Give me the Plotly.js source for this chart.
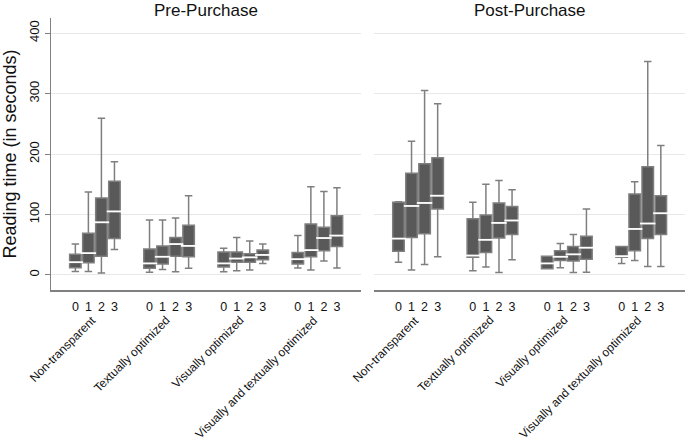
<!DOCTYPE html>
<html>
<head>
<meta charset="utf-8">
<script src="https://cdn.plot.ly/plotly-3.0.1.min.js"></script>
<style>html,body{margin:0;padding:0;background:#fff;}#chart{width:685px;height:442px;}</style>
</head>
<body>
<div id="chart"></div>
<script>
// ---- data ----
const conditions = ["Non-transparent", "Textually optimized", "Visually optimized", "Visually and textually optimized"];
const levels = ["0", "1", "2", "3"];
const panels = ["Pre-Purchase", "Post-Purchase"];

// Pre-Purchase (16 boxes: condition x level)
const preLow  = [5.5, 5.5, 3, 42,   4.5, 9, 5, 11,    5, 7, 8, 19,     11.5, 8, 23, 11.5];
const preQ1   = [12, 20, 31, 60,    11, 18, 31, 30,   13, 21, 21, 25,  18, 30, 40, 47];
const preMed  = [21, 36, 87, 105,   19, 30, 51, 48,   19, 27, 29, 33,  26, 41, 61, 65];
const preQ3   = [34, 69, 127, 155,  43, 48, 62, 82,   38, 38, 35, 41,  37, 84, 79, 98];
const preHigh = [51, 137, 259, 187, 91, 91, 94, 131,  44, 62, 56, 51,  65, 146, 138, 144];

// Post-Purchase
const postLow  = [21, 8, 17, 30,      7, 13, 4, 25,      10, 12, 4, 4.5,  19, 24, 14, 14];
const postQ1   = [39, 62, 68, 109,    29, 37, 61, 67,    10, 24, 23, 26,  29, 40, 60, 67];
const postMed  = [60, 114, 119, 131,  32, 58, 86, 90,    19, 30, 34, 45,  31, 76, 85, 102];
const postQ3   = [120, 168, 184, 194, 93, 99, 119, 113,  31, 40, 47, 64,  47, 134, 179, 131];
const postHigh = [121, 221, 305, 283, 120, 150, 156, 141, 31, 52, 67, 109, 47, 154, 353, 214];

// ---- layout helpers ----
const groupStep = 74 / 13;
const pos = [], tickText = [], groupCenters = [];
conditions.forEach((c, g) => {
  levels.forEach((l, j) => { pos.push(g * groupStep + j); tickText.push(l); });
  groupCenters.push(g * groupStep + (levels.length - 1) / 2);
});

const boxFill = '#595959', whisk = '#7f7f7f', fontFam = 'Liberation Sans, Arial, sans-serif';

function boxTrace(low, q1, med, q3, high, xa, ya) {
  return {
    type: 'box', x: pos, lowerfence: low, q1: q1, median: med, q3: q3, upperfence: high,
    xaxis: xa, yaxis: ya, width: 0.88, whiskerwidth: 0.65, boxpoints: false,
    fillcolor: boxFill, line: {color: whisk, width: 1.5}, hoverinfo: 'skip', showlegend: false
  };
}
function medTrace(med, xa, ya) {
  return {
    type: 'scatter', mode: 'markers', x: pos, y: med, xaxis: xa, yaxis: ya,
    marker: {symbol: 'line-ew', size: 11, color: '#ffffff', line: {color: '#ffffff', width: 1.8}},
    hoverinfo: 'skip', showlegend: false
  };
}

const data = [
  boxTrace(preLow, preQ1, preMed, preQ3, preHigh, 'x', 'y'),
  boxTrace(postLow, postQ1, postMed, postQ3, postHigh, 'x2', 'y2'),
  medTrace(preMed, 'x', 'y'),
  medTrace(postMed, 'x2', 'y2')
];

const xRange = [-1.87, 3 * groupStep + 3 + 1.85];
function xAxis(domain, anchor) {
  return {
    domain: domain, anchor: anchor, range: xRange, tickmode: 'array', tickvals: pos, ticktext: tickText,
    showline: true, linecolor: '#808080', linewidth: 1.5, showgrid: false, zeroline: false,
    ticks: 'outside', ticklen: 4, tickcolor: 'rgba(0,0,0,0)',
    tickfont: {family: fontFam, size: 12.5, color: '#111'}, fixedrange: true
  };
}

const annotations = [];
panels.forEach((p, i) => {
  annotations.push({
    text: p, xref: (i === 0 ? 'x domain' : 'x2 domain'), x: 0.5, yref: 'paper', y: 1,
    yanchor: 'bottom', xanchor: 'center', yshift: -4, showarrow: false,
    font: {family: fontFam, size: 17, color: '#111'}
  });
  conditions.forEach((c, g) => {
    annotations.push({
      text: c, xref: (i === 0 ? 'x' : 'x2'), x: groupCenters[g], yref: 'paper', y: -0.08,
      xanchor: 'right', yanchor: 'top', xshift: 5, textangle: -45, showarrow: false, borderpad: 0,
      font: {family: fontFam, size: 12, color: '#111'}
    });
  });
});

const layout = {
  width: 685, height: 442,
  margin: {l: 51, r: 0, t: 18, b: 152, pad: 0},
  paper_bgcolor: '#ffffff', plot_bgcolor: '#ffffff',
  font: {family: fontFam, color: '#111'},
  xaxis: xAxis([0, 0.489], 'y'),
  xaxis2: xAxis([0.5095, 1], 'y2'),
  yaxis: {
    range: [-25, 425], tickmode: 'array', tickvals: [0, 100, 200, 300, 400], tickangle: -90,
    ticks: 'outside', ticklen: 5, tickcolor: '#808080', showline: true, linecolor: '#808080', linewidth: 1.5,
    gridcolor: '#e8e8e8', gridwidth: 1, zeroline: false,
    tickfont: {family: fontFam, size: 13, color: '#111'},
    title: {text: 'Reading time (in seconds)', font: {family: fontFam, size: 18, color: '#111'}, standoff: 6},
    fixedrange: true
  },
  yaxis2: {
    anchor: 'x2', matches: 'y', range: [-25, 425], tickmode: 'array', tickvals: [0, 100, 200, 300, 400],
    showticklabels: false, ticks: '', showline: false, gridcolor: '#e8e8e8', gridwidth: 1, zeroline: false,
    fixedrange: true
  },
  annotations: annotations
};

Plotly.newPlot('chart', data, layout, {displayModeBar: false, staticPlot: true});
</script>
</body>
</html>
